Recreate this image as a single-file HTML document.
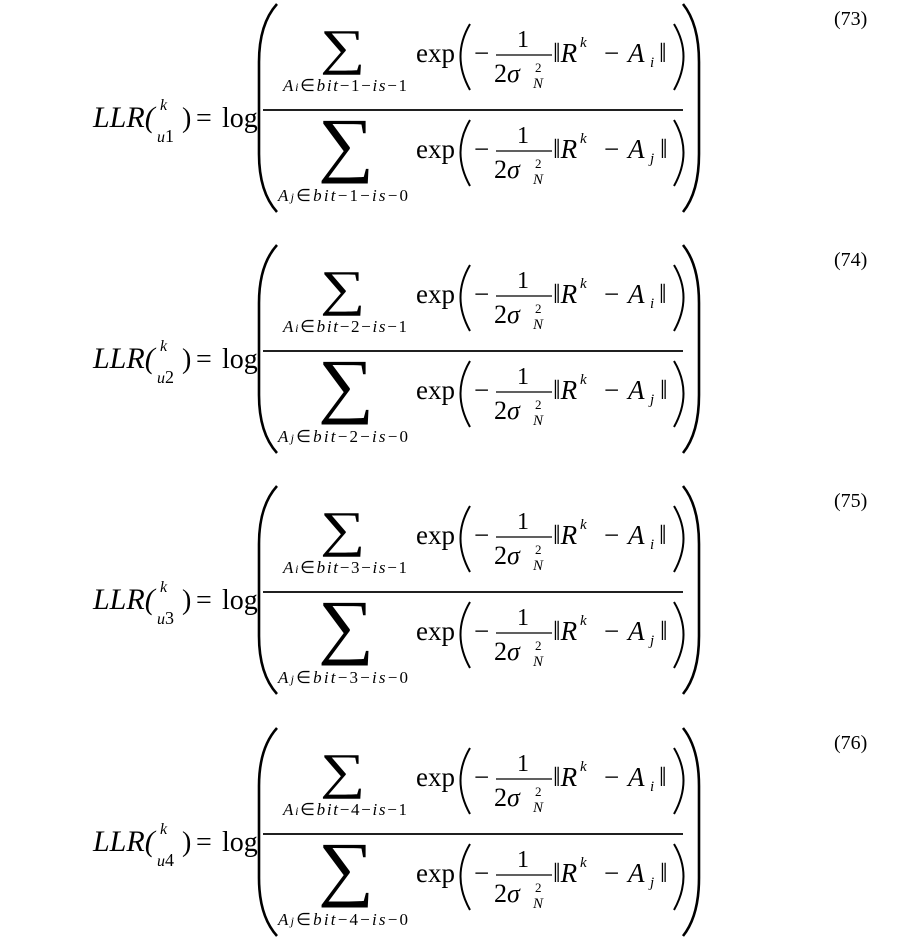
<!DOCTYPE html>
<html><head><meta charset="utf-8"><style>
html,body{margin:0;padding:0;background:#fff;}
svg{display:block;}
text{font-family:"Liberation Serif",serif;fill:#000;}
.i{font-style:italic;}
</style></head><body>
<svg width="900" height="950" viewBox="0 0 900 950" xmlns="http://www.w3.org/2000/svg">
<defs>
<g id="eqbase">
  <text x="93" y="127" font-size="30" class="i">LLR(</text>
  <text x="160" y="110" font-size="16" class="i">k</text>
  <text x="182" y="127" font-size="28">)</text>
  <text x="196" y="127" font-size="28">=</text>
  <text x="222" y="127" font-size="28">log</text>
  <path d="M277,4 Q259,24 259,62 L259,154 Q259,192 277,212" fill="none" stroke="#000" stroke-width="2.6"/>
  <path d="M683,4 Q699,24 699,62 L699,154 Q699,192 683,212" fill="none" stroke="#000" stroke-width="2.6"/>
  <line x1="263" y1="110" x2="683" y2="110" stroke="#000" stroke-width="1.8"/>
  <!-- numerator -->
  <text transform="translate(320,64) scale(1.27,1)" font-size="50">∑</text>
  <text x="416" y="62" font-size="27">exp</text>
  <path d="M470,24 Q451,56 470,90" fill="none" stroke="#000" stroke-width="2"/>
  <text x="474" y="62" font-size="27">−</text>
  <text x="517" y="47" font-size="24">1</text>
  <line x1="496" y1="55" x2="552" y2="55" stroke="#000" stroke-width="1.2"/>
  <text x="494" y="82" font-size="26">2<tspan class="i">σ</tspan></text>
  <text x="535" y="72" font-size="13">2</text>
  <text x="533" y="88" font-size="15" class="i">N</text>
  <text x="553" y="62" font-size="27">‖<tspan class="i">R</tspan></text>
  <text x="580" y="47" font-size="15" class="i">k</text>
  <text x="604" y="62" font-size="27">−</text>
  <text x="628" y="62" font-size="27" class="i">A</text>
  <text x="650" y="67" font-size="15" class="i">i</text>
  <text x="659" y="62" font-size="27">‖</text>
  <path d="M674,24 Q693,56 674,90" fill="none" stroke="#000" stroke-width="2"/>
  <!-- denominator -->
  <text transform="translate(318,168) scale(1.09,1)" font-size="72">∑</text>
  <text x="416" y="158" font-size="27">exp</text>
  <path d="M470,120 Q451,152 470,186" fill="none" stroke="#000" stroke-width="2"/>
  <text x="474" y="158" font-size="27">−</text>
  <text x="517" y="143" font-size="24">1</text>
  <line x1="496" y1="151" x2="552" y2="151" stroke="#000" stroke-width="1.2"/>
  <text x="494" y="178" font-size="26">2<tspan class="i">σ</tspan></text>
  <text x="535" y="168" font-size="13">2</text>
  <text x="533" y="184" font-size="15" class="i">N</text>
  <text x="553" y="158" font-size="27">‖<tspan class="i">R</tspan></text>
  <text x="580" y="143" font-size="15" class="i">k</text>
  <text x="604" y="158" font-size="27">−</text>
  <text x="628" y="158" font-size="27" class="i">A</text>
  <text x="650" y="163" font-size="15" class="i">j</text>
  <text x="660" y="158" font-size="27">‖</text>
  <path d="M674,120 Q693,152 674,186" fill="none" stroke="#000" stroke-width="2"/>
</g>
</defs>

<g transform="translate(0,0)">
  <use href="#eqbase"/>
  <text x="157" y="142" font-size="16" class="i">u<tspan font-style="normal" font-size="18">1</tspan></text>
  <text x="283" y="91" font-size="17" textLength="124" lengthAdjust="spacing"><tspan class="i">A</tspan><tspan class="i" font-size="12">i</tspan>∈<tspan class="i">bit</tspan>−1−<tspan class="i">is</tspan>−1</text>
  <text x="278" y="201" font-size="17" textLength="130" lengthAdjust="spacing"><tspan class="i">A</tspan><tspan class="i" font-size="12">j</tspan>∈<tspan class="i">bit</tspan>−1−<tspan class="i">is</tspan>−0</text>
  <text x="834" y="25" font-size="20">(73)</text>
</g>
<g transform="translate(0,241)">
  <use href="#eqbase"/>
  <text x="157" y="142" font-size="16" class="i">u<tspan font-style="normal" font-size="18">2</tspan></text>
  <text x="283" y="91" font-size="17" textLength="124" lengthAdjust="spacing"><tspan class="i">A</tspan><tspan class="i" font-size="12">i</tspan>∈<tspan class="i">bit</tspan>−2−<tspan class="i">is</tspan>−1</text>
  <text x="278" y="201" font-size="17" textLength="130" lengthAdjust="spacing"><tspan class="i">A</tspan><tspan class="i" font-size="12">j</tspan>∈<tspan class="i">bit</tspan>−2−<tspan class="i">is</tspan>−0</text>
  <text x="834" y="25" font-size="20">(74)</text>
</g>
<g transform="translate(0,482)">
  <use href="#eqbase"/>
  <text x="157" y="142" font-size="16" class="i">u<tspan font-style="normal" font-size="18">3</tspan></text>
  <text x="283" y="91" font-size="17" textLength="124" lengthAdjust="spacing"><tspan class="i">A</tspan><tspan class="i" font-size="12">i</tspan>∈<tspan class="i">bit</tspan>−3−<tspan class="i">is</tspan>−1</text>
  <text x="278" y="201" font-size="17" textLength="130" lengthAdjust="spacing"><tspan class="i">A</tspan><tspan class="i" font-size="12">j</tspan>∈<tspan class="i">bit</tspan>−3−<tspan class="i">is</tspan>−0</text>
  <text x="834" y="25" font-size="20">(75)</text>
</g>
<g transform="translate(0,724)">
  <use href="#eqbase"/>
  <text x="157" y="142" font-size="16" class="i">u<tspan font-style="normal" font-size="18">4</tspan></text>
  <text x="283" y="91" font-size="17" textLength="124" lengthAdjust="spacing"><tspan class="i">A</tspan><tspan class="i" font-size="12">i</tspan>∈<tspan class="i">bit</tspan>−4−<tspan class="i">is</tspan>−1</text>
  <text x="278" y="201" font-size="17" textLength="130" lengthAdjust="spacing"><tspan class="i">A</tspan><tspan class="i" font-size="12">j</tspan>∈<tspan class="i">bit</tspan>−4−<tspan class="i">is</tspan>−0</text>
  <text x="834" y="25" font-size="20">(76)</text>
</g>
</svg>
</body></html>
